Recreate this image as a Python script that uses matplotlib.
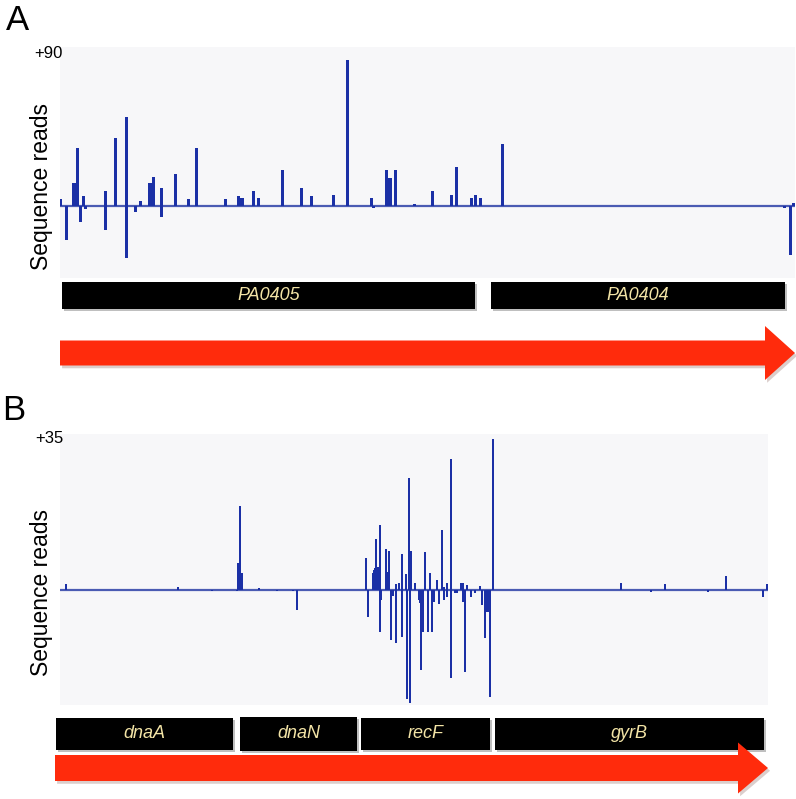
import matplotlib
matplotlib.use('Agg')
import matplotlib.pyplot as plt
from matplotlib.patches import Rectangle, FancyArrow
import matplotlib.patheffects as pe

plt.rcParams['font.family'] = ['Liberation Sans', 'DejaVu Sans']

# panel A: read positions (offset along the locus) and read counts
pos_a = [1, 7, 14, 16, 18, 21, 24, 26, 46, 46, 56, 67, 67, 76, 81,
         90, 92, 94, 102, 102, 116, 129, 137, 166, 179, 181, 183, 194, 199, 223, 242, 252, 274, 288,
         312, 314, 327, 329, 331, 336, 355, 373, 392, 397, 412, 416, 421, 443, 725, 731, 734]
reads_a = [4, -21, 14, 14, 36, -10, 6, -2, 9, -15, 42, 55, -32, -4, 3,
           14, 14, 18, 11, -7, 20, 4, 36, 4, 6, 5, 5, 9, 5, 22, 11, 6, 7, 90,
           5, -1, 22, 17, 17, 22, 1, 9, 7, 24, 5, 7, 5, 38, -1, -30, 2]
genes_a = ['PA0405', 'PA0404']
gene_start_a = [2, 431]
gene_end_a = [415, 725]

# panel B
pos_b = [6, 118, 152, 177, 178, 180, 181, 182, 199, 217, 233, 237,
         306, 308, 313, 314, 315, 316, 317, 318, 319, 320, 320, 321, 326, 327, 328, 329, 331, 333,
         336, 336, 339, 342, 342, 346, 347, 349, 350, 351, 355, 359, 360, 361, 362, 363, 365,
         368, 370, 372, 374, 377, 379, 382, 384, 384, 387, 387, 391, 391, 395, 397, 401,
         403, 403, 405, 407, 411, 415, 420, 422, 425, 427, 428, 430, 433,
         561, 591, 605, 648, 666, 703, 707]
reads_b = [1.3, 0.7, -0.3, -0.4, 6.1, 19.5, 3.8, 3.8, 0.5, -0.3, -0.3, -4.6,
           7.3, -6.3, 3.8, 4.5, 5.0, 11.7, 5.0, 5.3, 4.0, 15.0, -9.8, -2.5, 9.5, 4.2, 4.0, 9.0, -11.7, -1.5,
           1.3, -12.3, 1.6, 8.3, -10.9, 3.6, -25.5, 25.9, -26.4, 9.1, 1.6, -2.4, -3.0, -18.7, -3.0, -9.8, 8.7,
           -9.8, 4.0, -9.8, -2.8, 2.2, -3.3, 13.9, 0.6, -2.4, 1.6, -1.6, 30.3, -20.6, -0.7, -0.7, 1.5,
           1.6, -2.8, -19.1, 1.2, -1.6, -0.7, 0.9, -3.6, -11.3, -5.1, -5.1, -24.9, 35.0,
           1.6, -0.5, 1.3, -0.5, 3.3, -1.6, 1.3]
genes_b = ['dnaA', 'dnaN', 'recF', 'gyrB']
gene_start_b = [-4, 180, 301, 435]
gene_end_b = [173, 297, 430, 704]

W, H = 796, 799
bar_color = '#1b30a6'
base_color = '#4a5bb3'
bg = '#f7f7f9'
gene_text = '#f3e4a6'
arrow_red = '#ff2b0c'

fig = plt.figure(figsize=(W / 100, H / 100), dpi=100)


def box(x0, y0, x1, y1):
    # pixel box -> figure fraction rect
    return [x0 / W, 1 - y1 / H, (x1 - x0) / W, (y1 - y0) / H]


def track(rect, xlim, ylim, pos, reads, width):
    ax = fig.add_axes(rect)
    ax.set_facecolor(bg)
    ax.bar(pos, reads, width=width, color=bar_color, linewidth=0)
    ax.axhline(0, color=base_color, lw=1.6, zorder=0.5)
    ax.set_xlim(*xlim)
    ax.set_ylim(*ylim)
    ax.set_xticks([])
    ax.set_yticks([])
    for s in ax.spines.values():
        s.set_visible(False)
    return ax


def gene_row(rect, xlim, half, names, starts, ends, heights):
    ax = fig.add_axes(rect)
    ax.set_xlim(*xlim)
    ax.set_ylim(-half, half)
    ax.axis('off')
    for n, s, e, h in zip(names, starts, ends, heights):
        r = Rectangle((s, -h / 2), e - s, h, facecolor='black', edgecolor='none',
                      path_effects=[pe.SimplePatchShadow(offset=(1.5, -1.5), alpha=0.25), pe.Normal()])
        ax.add_patch(r)
        ax.text((s + e) / 2, 0, n, ha='center', va='center', style='italic',
                color=gene_text, fontsize=13)
    return ax


def arrow_row(rect, xlim, half, start, end, body, head_w, head_l):
    ax = fig.add_axes(rect)
    ax.set_xlim(*xlim)
    ax.set_ylim(-half, half)
    ax.axis('off')
    a = FancyArrow(start, 0, end - start, 0, width=body, head_width=head_w, head_length=head_l,
                   length_includes_head=True, facecolor=arrow_red, edgecolor='none',
                   path_effects=[pe.SimplePatchShadow(offset=(1.5, -2), alpha=0.2), pe.Normal()])
    ax.add_patch(a)
    return ax


# ---- panel A ----
track(box(60, 47, 795, 278), (0, 735), (-44.4, 98.0), pos_a, reads_a, 3.0)
gene_row(box(60, 279, 796, 311), (0, 736), 16, genes_a, gene_start_a, gene_end_a, [27, 27])
arrow_row(box(60, 318, 796, 388), (0, 736), 35, 0, 735, 25, 54, 30)

fig.text(18 / W, 1 - 21 / H, 'A', fontsize=25, ha='center', va='center')
fig.text(63 / W, 1 - 54 / H, '+90', fontsize=12, ha='right', va='center')
fig.text(42 / W, 1 - 186 / H, 'Sequence reads', fontsize=16.5, rotation=90, ha='center', va='center')

# ---- panel B ----
track(box(60, 434, 768, 705), (0, 708), (-26.8, 36.2), pos_b, reads_b, 2.2)
gene_row(box(50, 715, 775, 753), (-10, 715), 19, genes_b, gene_start_b, gene_end_b, [32, 34, 32, 32])
arrow_row(box(50, 738, 775, 798), (-10, 715), 30, -5, 708, 26, 51, 30)

fig.text(14 / W, 1 - 410 / H, 'B', fontsize=25, ha='center', va='center')
fig.text(63 / W, 1 - 438 / H, '+35', fontsize=12, ha='right', va='center')
fig.text(42 / W, 1 - 592 / H, 'Sequence reads', fontsize=16.5, rotation=90, ha='center', va='center')

fig.savefig('out.png', dpi=100)
